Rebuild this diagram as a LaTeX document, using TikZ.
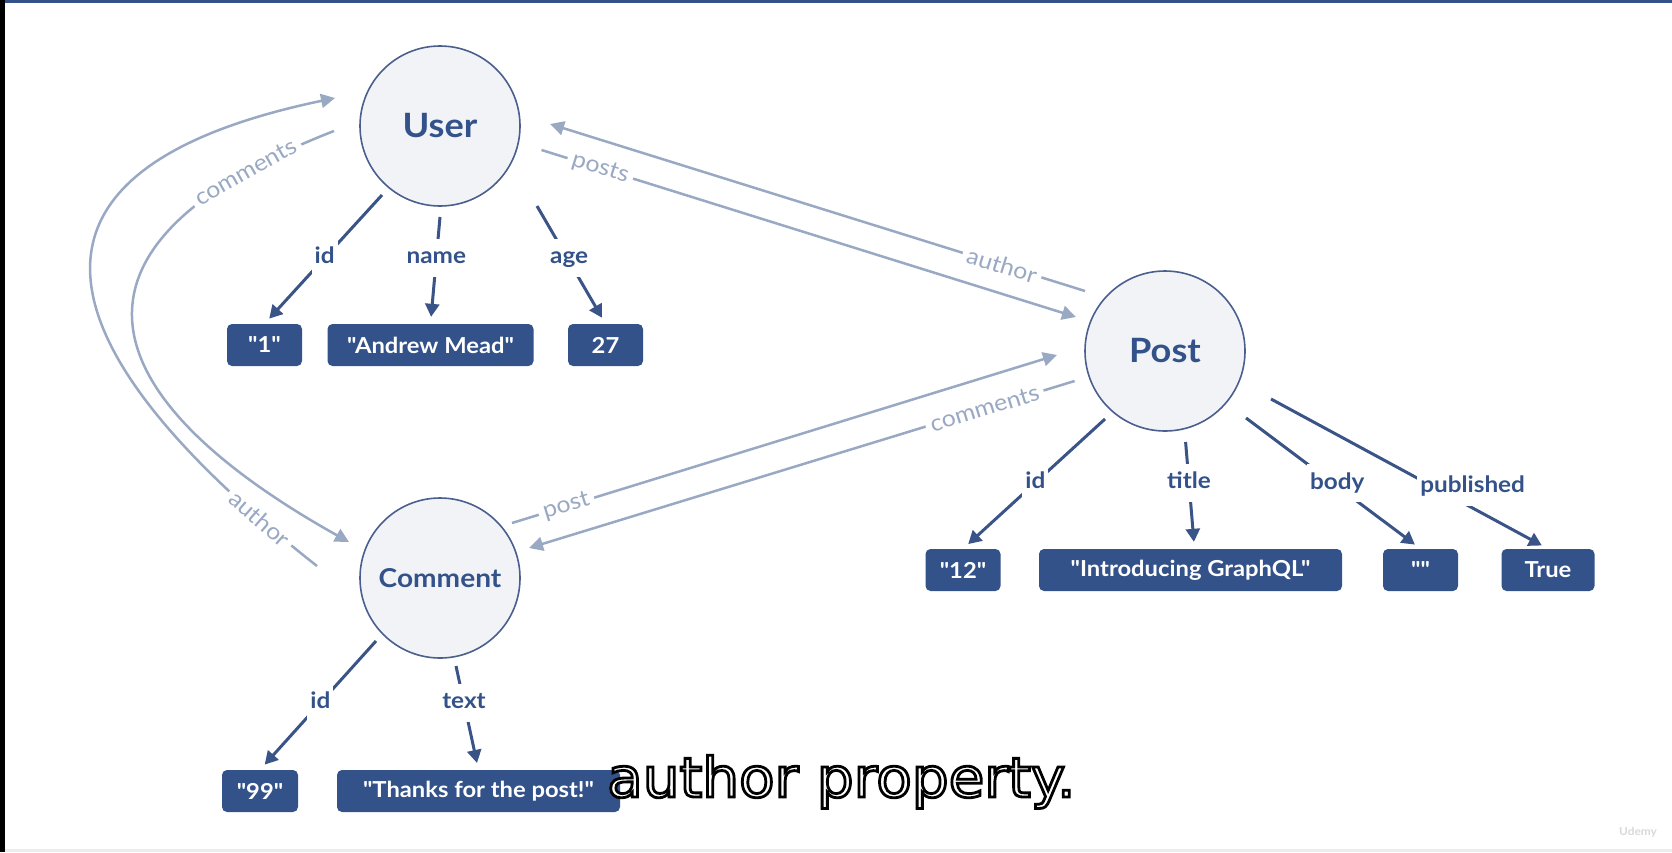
\documentclass[tikz,border=0pt]{standalone}
\usepackage{fontspec}
\newfontfamily\lato{Lato}[FakeStretch=1.08]
\newfontfamily\subfont{DejaVu Sans}[FakeStretch=1.055]
\usetikzlibrary{arrows.meta}
\definecolor{navy}{HTML}{34528A}
\definecolor{navyline}{HTML}{3A5488}
\definecolor{circline}{HTML}{4A5F8E}
\definecolor{cfill}{HTML}{F1F3F7}
\definecolor{grayl}{HTML}{9AA9C3}
\newcommand{\outlined}[1]{\special{pdf:literal direct 2 Tr 2.8 w 0 0 0 RG}#1\special{pdf:literal direct 0 Tr}}
\begin{document}
\begin{tikzpicture}[x=1pt,y=-1pt,
  ent/.style={circle, draw=circline, line width=1.6pt, fill=cfill, minimum size=160pt, inner sep=0pt, text=navy, font=\lato\bfseries\fontsize{33.5}{36}\selectfont},
  val/.style={rounded corners=5pt, fill=navy, text=white, minimum height=42pt, inner sep=0pt, font=\lato\bfseries\fontsize{22}{24}\selectfont},
  dk/.style={draw=navyline, line width=3pt, -{Triangle[length=13pt,width=14pt]}, shorten >=7pt},
  dl/.style={fill=white, text=navy, inner xsep=3pt, inner ysep=9pt, font=\lato\bfseries\fontsize{22.5}{24}\selectfont, text height=16pt, text depth=4pt},
  gr/.style={draw=grayl, line width=2.5pt, -{Triangle[length=14pt,width=14pt]}},
  gll/.style={fill=white, text=grayl, sloped, inner xsep=5pt, inner ysep=2pt, font=\lato\fontsize{23}{25}\selectfont},
  subt/.style={anchor=base west, inner sep=0pt, font=\subfont\fontsize{55}{60}\selectfont}
]
\useasboundingbox (0,0) rectangle (1672,852);
\fill[white] (0,0) rectangle (1672,852);
\fill[black] (0,0) rectangle (5,852);
\fill[navy] (5,0) rectangle (1672,3);
\fill[black!7] (5,849) rectangle (1672,852);

% entities
\node[ent] (User) at (440,126) {User};
\node[ent] (Post) at (1165,351) {Post};
\node[ent, font=\lato\bfseries\fontsize{26}{28}\selectfont] (Comment) at (440,578) {Comment};

% values
\node[val, minimum width=75pt] (u1) at (264.5,345) {"1"};
\node[val, minimum width=206pt] (u2) at (430.5,345) {"Andrew Mead"};
\node[val, minimum width=75pt] (u3) at (605.5,345) {27};
\node[val, minimum width=75pt] (p1) at (963,570) {"12"};
\node[val, minimum width=303pt] (p2) at (1190.5,570) {"Introducing GraphQL"};
\node[val, minimum width=75pt] (p3) at (1420.5,570) {""};
\node[val, minimum width=93pt] (p4) at (1548,570) {True};
\node[val, minimum width=76pt] (c1) at (260,791) {"99"};
\node[val, minimum width=283pt] (c2) at (478.5,791) {"Thanks for the post!"};

% free ends of connectors
\coordinate (uIdS) at (382,195);
\coordinate (uNameS) at (440,217);
\coordinate (uAgeS) at (537,206);
\coordinate (pIdS) at (1105,419);
\coordinate (pTitleS) at (1185.6,442);
\coordinate (pBodyS) at (1246,418);
\coordinate (pPubS) at (1271,399);
\coordinate (cIdS) at (376,641);
\coordinate (cTextS) at (456,666);

\coordinate (uPostsT) at (541.5,150);
\coordinate (pPostsH) at (1076,317);
\coordinate (pAuthT) at (1085,291);
\coordinate (uAuthH) at (550,124);
\coordinate (pComT) at (1074.6,381);
\coordinate (cComH) at (529,548);
\coordinate (cPostT) at (512,523);
\coordinate (pPostH) at (1057,355);
\coordinate (cAuthT) at (317,566);
\coordinate (uAuthH2) at (335,98);
\coordinate (uComT) at (334,131);
\coordinate (cComH2) at (349,542);

% relation connectors
\draw[gr] (uPostsT) -- (pPostsH) node[gll,pos=0.11]{posts};
\draw[gr] (pAuthT) -- (uAuthH) node[gll,pos=0.155]{author};
\draw[gr] (pComT) -- (cComH) node[gll,pos=0.165]{comments};
\draw[gr] (cPostT) -- (pPostH) node[gll,pos=0.1]{post};
\draw[gr] (cAuthT) .. controls (99,395) and (-62,181) .. (uAuthH2) node[gll,pos=0.09]{author};
\draw[gr] (uComT) .. controls (40,245.5) and (89.4,396.9) .. (cComH2) node[gll,pos=0.115]{comments};

% field connectors
\draw[dk] (uIdS) -- (u1.north) node[dl,pos=0.488]{id};
\draw[dk] (uNameS) -- (u2.north) node[dl,pos=0.383]{name};
\draw[dk] (uAgeS) -- (u3.north) node[dl,pos=0.44,xshift=2pt]{age};
\draw[dk] (pIdS) -- (p1.north) node[dl,pos=0.49]{id};
\draw[dk] (pTitleS) -- ([xshift=4pt]p2.north) node[dl,pos=0.38]{title};
\draw[dk] (pBodyS) -- (p3.north) node[dl,pos=0.5,xshift=4pt]{body};
\draw[dk] (pPubS) -- (p4.north) node[dl,pos=0.587,xshift=39pt]{published};
\draw[dk] (cIdS) -- (c1.north) node[dl,pos=0.48]{id};
\draw[dk] (cTextS) -- (c2.north) node[dl,pos=0.356]{text};

% subtitle (white text with black outline)
\node[subt, text=white] (sub) at (607,797) {\outlined{author property.}};

\node[text=black!15, font=\lato\bfseries\fontsize{11}{12}\selectfont] (udemy) at (1638,832) {Udemy};
\end{tikzpicture}
\end{document}
